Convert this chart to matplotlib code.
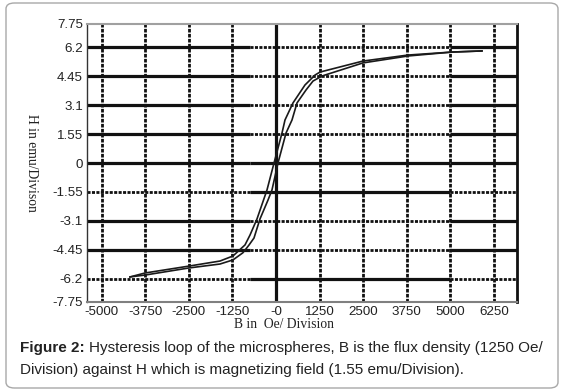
import matplotlib
matplotlib.use("Agg")
import matplotlib.pyplot as plt
from matplotlib.patches import FancyBboxPatch

# tick positions / labels (labels as printed on the original figure)
x_ticks = [-5000, -3750, -2500, -1250, 0, 1250, 2500, 3750, 5000, 6250]
x_labels = ["-5000", "-3750", "-2500", "-1250", "-0", "1250", "2500", "3750", "5000", "6250"]
y_ticks = [-7.43, -6.2, -4.65, -3.1, -1.55, 0, 1.55, 3.1, 4.65, 6.2, 7.43]
y_labels = ["-7.75", "-6.2", "-4.45", "-3.1", "-1.55", "0", "1.55", "3.1", "4.45", "6.2", "7.75"]

# horizontal grid line styles in three x-ranges: left | middle | right
h_lines = [6.2, 4.65, 3.1, 1.55, 0, -1.55, -3.1, -4.65, -6.2]
h_styles = ["sds", "sds", "sds", "sds", "sss", "dsd", "sds", "sds", "dsd"]
h_splits = [-5419, -750, 5000, 6910]

# descending branch (from +saturation to -saturation)
desc_h = [5906, 5046, 3784, 2494, 1261, 1118, 831, 487, 258, 172, -57,
          -258, -545, -745, -889, -1233, -1606, -2494, -3756, -4186]
desc_b = [5.99, 5.93, 5.77, 5.45, 4.86, 4.70, 4.17, 3.21, 2.30, 1.60, 0.0,
          -1.44, -2.99, -3.85, -4.38, -4.97, -5.24, -5.51, -5.88, -6.09]

# ascending branch (from -saturation to +saturation)
asc_h = [-4186, -3756, -2494, -1606, -1233, -950, -780, -631, -459, -229,
         -115, 57, 287, 459, 602, 860, 1061, 1319, 2494, 3784, 5046, 5906]
asc_b = [-6.09, -5.99, -5.61, -5.40, -5.18, -4.80, -4.40, -4.01, -2.99, -1.98,
         -1.44, 0.0, 1.60, 2.30, 3.21, 3.90, 4.38, 4.65, 5.35, 5.72, 5.93, 5.99]

fig = plt.figure(figsize=(5.65, 3.91), dpi=100)
ax = fig.add_axes([87 / 565, 1 - 302 / 391, 430 / 565, 278 / 391])
ax.set_xlim(h_splits[0], h_splits[-1])
ax.set_ylim(-7.43, 7.43)

# vertical grid
for xv in x_ticks:
    if xv == 0:
        ax.axvline(xv, color="#111111", lw=2.3, zorder=1)
    else:
        ax.axvline(xv, color="#111111", lw=2.0, dashes=(1.3, 0.5), zorder=1)

# horizontal grid, segment by segment
for yv, st in zip(h_lines, h_styles):
    for i, c in enumerate(st):
        x0, x1 = h_splits[i], h_splits[i + 1]
        if c == "s":
            ax.plot([x0, x1], [yv, yv], color="#111111", lw=2.3,
                    solid_capstyle="butt", zorder=1)
        else:
            ax.plot([x0, x1], [yv, yv], color="#111111", lw=2.0,
                    dashes=(1.1, 0.5), zorder=1)

ax.plot(desc_h, desc_b, color="#1a1a1a", lw=1.2, zorder=3)
ax.plot(asc_h, asc_b, color="#1a1a1a", lw=1.2, zorder=3)

ax.set_xticks(x_ticks)
ax.set_xticklabels(x_labels)
ax.set_yticks(y_ticks)
ax.set_yticklabels(y_labels)
ax.tick_params(length=0, pad=3, labelsize=9.6)
for lab in ax.get_xticklabels() + ax.get_yticklabels():
    lab.set_family("Liberation Sans")
    lab.set_color("#222222")

ax.spines["top"].set_color("#a0a0a0")
ax.spines["top"].set_linewidth(1.5)
ax.spines["bottom"].set_color("#808080")
ax.spines["bottom"].set_linewidth(1.5)
ax.spines["left"].set_color("#333333")
ax.spines["left"].set_linewidth(1.0)
ax.spines["right"].set_color("#111111")
ax.spines["right"].set_linewidth(2.0)

ax.set_xlabel("B in  Oe/ Division", family="Liberation Serif", fontsize=9.8,
              color="#222222")
ax.xaxis.set_label_coords(0.457, -0.057)
ax.set_ylabel("H in emu/Divison", family="Liberation Serif", fontsize=9.8,
              rotation=-90, color="#222222", va="center")
ax.yaxis.set_label_coords(-0.128, 0.5)

# rounded frame around the whole figure
fig.patches.append(FancyBboxPatch((6 / 565, 3 / 391), 552 / 565, 385 / 391,
                                  boxstyle="round,pad=0,rounding_size=0.015",
                                  transform=fig.transFigure, fill=False,
                                  edgecolor="#a8a8a8", lw=1.0))

# caption
cap_size = 11.0
t1 = fig.text(20 / 565, 1 - 352 / 391, "Figure 2:", family="Liberation Sans",
              fontsize=cap_size, weight="bold", color="#222222")
fig.canvas.draw()
bb = t1.get_window_extent(fig.canvas.get_renderer())
fig.text(bb.x1 / 565 + 4 / 565, 1 - 352 / 391,
         "Hysteresis loop of the microspheres, B is the flux density (1250 Oe/",
         family="Liberation Sans", fontsize=cap_size, color="#222222")
fig.text(20 / 565, 1 - 374 / 391,
         "Division) against H which is magnetizing field (1.55 emu/Division).",
         family="Liberation Sans", fontsize=cap_size, color="#222222")

fig.savefig("out.png", dpi=100)
